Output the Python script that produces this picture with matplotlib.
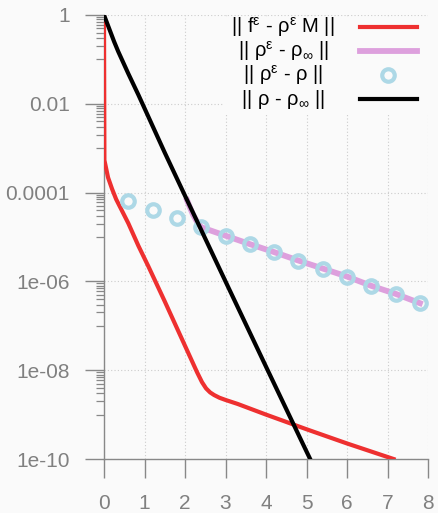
import matplotlib
matplotlib.use('Agg')
import matplotlib.pyplot as plt
import numpy as np
from matplotlib.lines import Line2D
from matplotlib.patches import Rectangle

plt.rcParams['font.family'] = ['Liberation Sans', 'DejaVu Sans']
plt.rcParams['mathtext.fontset'] = 'custom'
plt.rcParams['mathtext.rm'] = 'Liberation Sans'
plt.rcParams['mathtext.it'] = 'Liberation Sans'
plt.rcParams['mathtext.default'] = 'regular'

# data (log10 of the norm)
t_fM = [0, 0.01, 0.1, 0.2, 0.3, 0.45, 0.6, 0.85, 1.1, 1.5, 2.0, 2.3, 2.42,
        2.52, 2.62, 2.72, 2.85, 3.0, 3.3, 4.0, 5.0, 6.0, 7.15]
log_fM = [0, -3.27, -3.66, -3.92, -4.15, -4.42, -4.69, -5.2, -5.67, -6.45,
          -7.45, -8.05, -8.27, -8.41, -8.5, -8.56, -8.62, -8.67, -8.76, -9.0,
          -9.33, -9.65, -10.0]

t_rho = [0, 0.05, 0.15, 0.25, 0.35, 0.45, 0.6, 0.85, 1.09, 1.5, 2.0, 3.0, 4.0,
         5.0, 5.09]
log_rho = [0, -0.12, -0.36, -0.6, -0.82, -1.02, -1.32, -1.8, -2.28, -3.1,
           -4.07, -6.0, -7.92, -9.83, -10.0]

t_eps_inf = [2.05, 2.12, 2.2, 2.28, 2.4, 3.0, 3.6, 4.2, 4.8, 5.4, 6.0, 6.6,
             7.2, 7.8]
log_eps_inf = [-4.17, -4.33, -4.5, -4.63, -4.78, -4.97, -5.16, -5.34, -5.53,
               -5.71, -5.89, -6.10, -6.28, -6.49]

t_eps_rho = [0.6, 1.2, 1.8, 2.4, 3.0, 3.6, 4.2, 4.8, 5.4, 6.0, 6.6, 7.2, 7.8]
log_eps_rho = [-4.20, -4.39, -4.58, -4.78, -4.97, -5.16, -5.34, -5.53, -5.71,
               -5.89, -6.10, -6.28, -6.49]

labels = [r'|| f$^{\varepsilon}$ - ρ$^{\varepsilon}$ M ||',
          r'|| ρ$^{\varepsilon}$ - ρ$_{\infty}$ ||',
          r'|| ρ$^{\varepsilon}$ - ρ ||',
          r'|| ρ - ρ$_{\infty}$ ||']
yticks = [1, 1e-2, 1e-4, 1e-6, 1e-8, 1e-10]
ylabels = ['1', '0.01', '0.0001', '1e-06', '1e-08', '1e-10']

bg = '#fafafa'
gray = '#888888'
red = '#ee3030'
pink = '#dda0dd'
blue = '#add8e6'

fig = plt.figure(figsize=(4.38, 5.13), dpi=100, facecolor=bg)
ax = fig.add_axes([104 / 438, 54 / 513, 324 / 438, 444 / 513])
ax.set_facecolor(bg)
ax.set_yscale('log')
ax.set_xlim(0, 8)
ax.set_ylim(1e-10, 1)

ax.plot(t_fM, 10 ** np.array(log_fM), color=red, lw=3.0, zorder=3)
ax.plot(t_eps_inf, 10 ** np.array(log_eps_inf), color=pink, lw=4.2, zorder=3)
ax.plot(t_eps_rho, 10 ** np.array(log_eps_rho), ls='none', marker='o', ms=9,
        mfc='none', mec=blue, mew=3.0, zorder=4, clip_on=False)
ax.plot(t_rho, 10 ** np.array(log_rho), color='black', lw=3.0, zorder=5)

# ticks
ax.set_xticks(range(9))
ax.set_yticks(yticks, ylabels)
minor = [m * y / 10 for y in yticks[:-1] for m in range(1, 10)]
ax.set_yticks(minor, minor=True)
ax.yaxis.set_minor_formatter(plt.NullFormatter())
ax.tick_params(axis='both', which='major', direction='out', length=13.5,
               width=1.0, color=gray, labelcolor='#808080', labelsize=15, pad=11)
ax.tick_params(axis='y', which='minor', direction='out', length=6, width=0.9,
               color=gray)
ax.tick_params(axis='x', pad=12)
for s in ['top', 'right']:
    ax.spines[s].set_visible(False)
for s in ['left', 'bottom']:
    ax.spines[s].set_color(gray)
    ax.spines[s].set_linewidth(1.0)
ax.grid(True, which='major', color='#cccccc', lw=0.8, ls=(0, (1, 2)))

# legend, gnuplot style (text then sample)
ax.add_patch(Rectangle((0.37, 0.78), 0.63, 0.215, transform=ax.transAxes,
                       facecolor=bg, edgecolor='none', zorder=2))
rows = [0.974, 0.92, 0.864, 0.81]
for y, lab in zip(rows, labels):
    ax.text(0.553, y, lab, transform=ax.transAxes, ha='center', va='center',
            fontsize=14.5, color='black', zorder=6)
x0, x1 = 0.79, 0.966
ax.add_line(Line2D([x0, x1], [rows[0]] * 2, transform=ax.transAxes,
                   color=red, lw=3.0, zorder=6))
ax.add_line(Line2D([x0, x1], [rows[1]] * 2, transform=ax.transAxes,
                   color=pink, lw=4.2, zorder=6))
ax.add_line(Line2D([(x0 + x1) / 2], [rows[2]], transform=ax.transAxes,
                   ls='none', marker='o', ms=9, mfc='none', mec=blue, mew=3.0,
                   zorder=6))
ax.add_line(Line2D([x0, x1], [rows[3]] * 2, transform=ax.transAxes,
                   color='black', lw=3.0, zorder=6))

fig.savefig('out.png', dpi=100, facecolor=bg)
